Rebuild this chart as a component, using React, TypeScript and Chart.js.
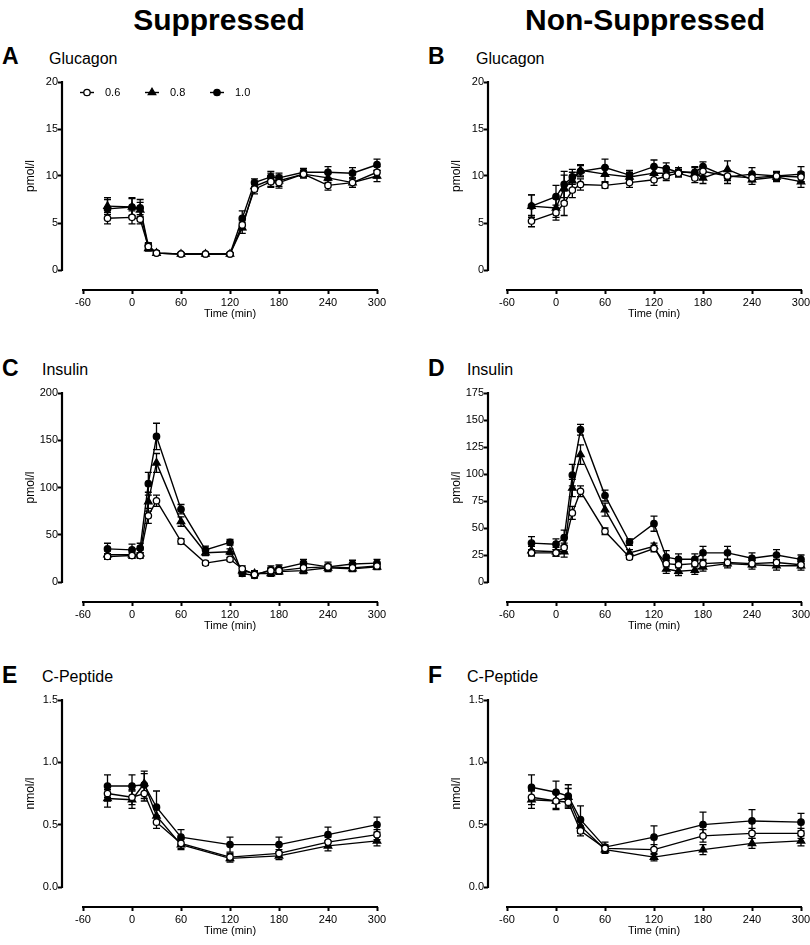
import React, { useEffect, useRef } from 'react';
import { Chart, registerables } from 'chart.js';
Chart.register(...registerables);

const FONT = '"Liberation Sans", Arial, Helvetica, sans-serif';

// ---------- data ----------
const TIMES = [-30, 0, 10, 20, 30, 60, 90, 120, 135, 150, 170, 180, 210, 240, 270, 300];
const TIMES_CPEP = [-30, 0, 15, 30, 60, 120, 180, 240, 300];
const X_TICKS = [-60, 0, 60, 120, 180, 240, 300];
const SERIES_LABELS = ['0.6', '0.8', '1.0'];

const GLU_TICKS = [0, 5, 10, 15, 20];
const INS_S_TICKS = [0, 50, 100, 150, 200];
const INS_N_TICKS = [0, 25, 50, 75, 100, 125, 150, 175];
const CPEP_TICKS = [0, 0.5, 1.0, 1.5];

// A: Glucagon, suppressed
const GLU_S_06 = [5.5, 5.6, 5.4, 2.5, 1.8, 1.7, 1.7, 1.7, 4.8, 8.6, 9.4, 9.3, 10.2, 9.0, 9.3, 10.4];
const GLU_S_08 = [6.8, 6.7, 6.4, 2.3, 1.8, 1.7, 1.7, 1.7, 4.5, 8.9, 9.6, 9.5, 10.2, 9.8, 9.3, 10.0];
const GLU_S_10 = [6.5, 6.7, 6.6, 2.6, 1.8, 1.7, 1.7, 1.7, 5.5, 9.3, 9.9, 9.8, 10.4, 10.4, 10.3, 11.2];
const GLU_S_06_ERR = [0.6, 0.7, 0.5, 0.3, 0.2, 0.1, 0.1, 0.1, 0.5, 0.5, 0.6, 0.6, 0.4, 0.5, 0.5, 0.6];
const GLU_S_08_ERR = [0.9, 0.9, 0.8, 0.3, 0.2, 0.1, 0.1, 0.1, 0.6, 0.5, 0.7, 0.6, 0.4, 0.5, 0.5, 0.6];
const GLU_S_10_ERR = [1.0, 1.0, 0.9, 0.3, 0.2, 0.1, 0.1, 0.1, 0.8, 0.4, 0.6, 0.5, 0.4, 0.6, 0.6, 0.6];

// B: Glucagon, non-suppressed
const GLU_N_06 = [5.2, 6.1, 7.1, 8.5, 9.1, 9.0, 9.3, 9.6, 10.0, 10.3, 9.8, 10.5, 10.0, 9.8, 10.0, 9.9];
const GLU_N_08 = [6.8, 6.6, 8.7, 9.5, 10.6, 10.2, 9.9, 10.3, 10.3, 10.5, 10.3, 9.8, 10.7, 9.6, 9.9, 9.4];
const GLU_N_10 = [6.8, 7.8, 9.1, 9.9, 10.5, 10.9, 10.1, 11.0, 10.8, 10.4, 10.4, 11.0, 9.9, 10.2, 10.0, 10.2];
const GLU_N_06_ERR = [0.6, 0.8, 1.3, 0.8, 0.6, 0.3, 0.5, 0.6, 0.5, 0.4, 0.5, 0.5, 0.5, 0.4, 0.4, 0.5];
const GLU_N_08_ERR = [1.2, 1.0, 1.4, 0.9, 0.6, 0.8, 0.5, 0.7, 0.6, 0.4, 0.6, 0.6, 0.9, 0.5, 0.5, 0.6];
const GLU_N_10_ERR = [1.2, 1.2, 1.4, 0.8, 0.6, 0.9, 0.5, 0.7, 0.6, 0.5, 0.6, 0.5, 0.7, 0.7, 0.5, 0.8];

// C: Insulin, suppressed
const INS_S_06 = [27, 28, 28, 70, 86, 43, 20, 24, 14, 8, 12, 12, 15, 16, 15, 17];
const INS_S_08 = [29, 29, 30, 85, 126, 64, 31, 32, 12, 9, 9, 11, 12, 15, 14, 16];
const INS_S_10 = [35, 34, 36, 104, 154, 77, 34, 42, 9, 7, 13, 14, 20, 16, 19, 20];
const INS_S_06_ERR = [3, 3, 3, 8, 6, 3, 2, 2, 3, 3, 3, 3, 3, 3, 3, 3];
const INS_S_08_ERR = [4, 4, 4, 10, 10, 5, 3, 3, 3, 3, 3, 3, 3, 3, 3, 3];
const INS_S_10_ERR = [6, 6, 5, 12, 14, 5, 4, 3, 3, 3, 4, 4, 4, 5, 4, 4];

// D: Insulin, non-suppressed
const INS_N_06 = [27, 27, 32, 64, 84, 47, 23, 31, 17, 16, 17, 17, 18, 17, 18, 16];
const INS_N_08 = [29, 28, 28, 87, 118, 67, 27, 33, 12, 10, 11, 14, 17, 16, 15, 15];
const INS_N_10 = [36, 35, 41, 99, 141, 80, 37, 54, 23, 21, 21, 27, 27, 22, 25, 21];
const INS_N_06_ERR = [3, 3, 4, 6, 5, 3, 2, 3, 3, 3, 3, 3, 3, 3, 3, 3];
const INS_N_08_ERR = [4, 4, 5, 8, 9, 6, 3, 3, 4, 4, 4, 4, 4, 4, 4, 4];
const INS_N_10_ERR = [6, 5, 7, 10, 5, 5, 3, 7, 6, 5, 5, 6, 6, 5, 5, 4];

// E: C-peptide, suppressed
const CP_S_06 = [0.75, 0.72, 0.75, 0.52, 0.35, 0.24, 0.27, 0.36, 0.42];
const CP_S_08 = [0.71, 0.70, 0.83, 0.57, 0.34, 0.23, 0.25, 0.33, 0.37];
const CP_S_10 = [0.81, 0.81, 0.82, 0.64, 0.40, 0.34, 0.34, 0.42, 0.50];
const CP_S_06_ERR = [0.06, 0.06, 0.06, 0.05, 0.04, 0.03, 0.03, 0.04, 0.04];
const CP_S_08_ERR = [0.07, 0.07, 0.08, 0.06, 0.04, 0.03, 0.03, 0.04, 0.04];
const CP_S_10_ERR = [0.09, 0.09, 0.11, 0.13, 0.06, 0.06, 0.06, 0.06, 0.06];

// F: C-peptide, non-suppressed
const CP_N_06 = [0.72, 0.69, 0.68, 0.45, 0.31, 0.30, 0.41, 0.43, 0.43];
const CP_N_08 = [0.70, 0.69, 0.72, 0.49, 0.30, 0.24, 0.30, 0.35, 0.37];
const CP_N_10 = [0.80, 0.76, 0.73, 0.54, 0.32, 0.40, 0.50, 0.53, 0.52];
const CP_N_06_ERR = [0.06, 0.06, 0.05, 0.04, 0.03, 0.04, 0.05, 0.04, 0.04];
const CP_N_08_ERR = [0.07, 0.07, 0.07, 0.05, 0.03, 0.03, 0.04, 0.04, 0.04];
const CP_N_10_ERR = [0.10, 0.09, 0.09, 0.11, 0.04, 0.09, 0.10, 0.09, 0.07];

// ---------- layout ----------
type Geo = { L: number; X60: number; R: number; T: number; Y0: number; B: number };
const PAD_L = 60;
const PAD_T = 20;
const PAD_R = 12;
const X_AXIS_H = 38;

const COL_LEFT = { L: 62, X60: 83, R: 377 };
const COL_RIGHT = { L: 488, X60: 507, R: 801 };
const ROW1 = { T: 82, Y0: 270, B: 290 };
const ROW2 = { T: 393, Y0: 582, B: 602 };
const ROW3 = { T: 700, Y0: 887, B: 907 };

// ---------- plugins ----------
function markerPath(ctx: CanvasRenderingContext2D, style: string, r: number, x: number, y: number) {
  ctx.beginPath();
  if (style === 'triangle') {
    let rad = 0;
    ctx.moveTo(x + Math.sin(rad) * r, y - Math.cos(rad) * r);
    rad += (2 * Math.PI) / 3;
    ctx.lineTo(x + Math.sin(rad) * r, y - Math.cos(rad) * r);
    rad += (2 * Math.PI) / 3;
    ctx.lineTo(x + Math.sin(rad) * r, y - Math.cos(rad) * r);
    ctx.closePath();
  } else {
    ctx.arc(x, y, r, 0, Math.PI * 2);
    ctx.closePath();
  }
}

const errorBarPlugin = {
  id: 'errorBars',
  beforeDatasetsDraw(chart: any) {
    const { ctx, scales } = chart;
    const x = scales.x;
    const y = scales.y;
    ctx.save();
    ctx.strokeStyle = '#000';
    ctx.lineWidth = 1.3;
    chart.data.datasets.forEach((ds: any) => {
      const errs: number[] = ds.errors;
      if (!errs) return;
      ds.data.forEach((p: any, i: number) => {
        const e = errs[i];
        if (!e) return;
        const px = x.getPixelForValue(p.x);
        const yt = y.getPixelForValue(p.y + e);
        const yb = y.getPixelForValue(p.y - e);
        ctx.beginPath();
        ctx.moveTo(px, yt);
        ctx.lineTo(px, yb);
        ctx.moveTo(px - 3.5, yt);
        ctx.lineTo(px + 3.5, yt);
        ctx.moveTo(px - 3.5, yb);
        ctx.lineTo(px + 3.5, yb);
        ctx.stroke();
      });
    });
    ctx.restore();
  },
};

const prismAxesPlugin = {
  id: 'prismAxes',
  afterDraw(chart: any, _args: any, opts: any) {
    const { ctx, chartArea, scales } = chart;
    const x = scales.x;
    const y = scales.y;
    ctx.save();
    ctx.strokeStyle = '#000';
    ctx.lineWidth = 2.2;
    const y0 = y.getPixelForValue(0);
    const y1 = y.getPixelForValue(opts.yMax);
    ctx.beginPath();
    ctx.moveTo(chartArea.left, y0 + 1);
    ctx.lineTo(chartArea.left, y1 - 1);
    ctx.stroke();
    const xa = x.getPixelForValue(X_TICKS[0]);
    const xb = x.getPixelForValue(X_TICKS[X_TICKS.length - 1]);
    ctx.beginPath();
    ctx.moveTo(xa - 1, chartArea.bottom);
    ctx.lineTo(xb + 1, chartArea.bottom);
    ctx.stroke();

    ctx.fillStyle = '#000';
    ctx.textAlign = 'center';
    ctx.textBaseline = 'middle';
    ctx.font = `11px ${FONT}`;
    ctx.fillText(opts.xTitle, (xa + xb) / 2, chartArea.bottom + 24);
    ctx.save();
    ctx.translate(chartArea.left - 31, (y0 + y1) / 2);
    ctx.rotate(-Math.PI / 2);
    ctx.font = `12px ${FONT}`;
    ctx.fillText(opts.yTitle, 0, 0);
    ctx.restore();
    ctx.restore();
  },
};

const lineLegendPlugin = {
  id: 'lineLegend',
  afterDraw(chart: any, _args: any, opts: any) {
    if (!opts || !opts.show) return;
    const { ctx, chartArea } = chart;
    ctx.save();
    chart.data.datasets.forEach((ds: any, i: number) => {
      const x0 = chartArea.left + 18 + i * 65;
      const yc = chartArea.top + 10.5;
      ctx.strokeStyle = '#000';
      ctx.lineWidth = 1.4;
      ctx.beginPath();
      ctx.moveTo(x0, yc);
      ctx.lineTo(x0 + 14, yc);
      ctx.stroke();
      markerPath(ctx, ds.pointStyle, ds.pointRadius, x0 + 7, yc);
      ctx.fillStyle = ds.pointBackgroundColor;
      ctx.fill();
      ctx.lineWidth = ds.pointBorderWidth;
      ctx.stroke();
      ctx.fillStyle = '#000';
      ctx.font = `11px ${FONT}`;
      ctx.textAlign = 'left';
      ctx.textBaseline = 'middle';
      ctx.fillText(ds.label, x0 + 25, yc);
    });
    ctx.restore();
  },
};

// ---------- panel ----------
type PanelProps = {
  geo: Geo;
  times: number[];
  series: number[][];
  errors: number[][];
  yMax: number;
  yTicks: number[];
  yTitle: string;
  decimals: number;
  legend?: boolean;
};

function Panel({ geo, times, series, errors, yMax, yTicks, yTitle, decimals, legend }: PanelProps) {
  const ref = useRef<HTMLCanvasElement | null>(null);
  const left = geo.L - PAD_L;
  const top = geo.T - PAD_T;
  const width = geo.R - geo.L + PAD_L + PAD_R;
  const height = geo.B - geo.T + PAD_T + X_AXIS_H;

  useEffect(() => {
    if (!ref.current) return;
    const pxX = (geo.R - geo.X60) / (X_TICKS[X_TICKS.length - 1] - X_TICKS[0]);
    const xMin = X_TICKS[0] - (geo.X60 - geo.L) / pxX;
    const pxY = (geo.Y0 - geo.T) / yMax;
    const yMin = -(geo.B - geo.Y0) / pxY;

    const datasets = series.map((vals, i) => ({
      label: SERIES_LABELS[i],
      data: times.map((t, j) => ({ x: t, y: vals[j] })),
      errors: errors[i],
      borderColor: '#000',
      borderWidth: 1.4,
      pointStyle: i === 1 ? 'triangle' : 'circle',
      pointRadius: i === 1 ? 4.3 : 3.2,
      pointBackgroundColor: i === 0 ? '#fff' : '#000',
      pointBorderColor: '#000',
      pointBorderWidth: 1.3,
      fill: false,
      tension: 0,
      clip: false,
    }));

    const chart = new Chart(ref.current, {
      type: 'line',
      data: { datasets } as any,
      options: {
        responsive: false,
        animation: false,
        devicePixelRatio: 1,
        events: [],
        layout: { padding: { left: 0, top: PAD_T, right: PAD_R, bottom: 0 } },
        plugins: {
          legend: { display: false },
          tooltip: { enabled: false },
          title: { display: false },
          prismAxes: { yMax, xTitle: 'Time (min)', yTitle },
          lineLegend: { show: !!legend },
        } as any,
        scales: {
          x: {
            type: 'linear',
            min: xMin,
            max: X_TICKS[X_TICKS.length - 1],
            afterBuildTicks: (s: any) => {
              s.ticks = X_TICKS.map((v) => ({ value: v }));
            },
            afterFit: (s: any) => {
              s.height = X_AXIS_H;
            },
            grid: {
              display: true,
              drawOnChartArea: false,
              drawTicks: true,
              tickLength: 4,
              tickWidth: 2,
              tickColor: '#000',
            },
            border: { display: false },
            ticks: {
              font: { family: FONT, size: 11 },
              color: '#000',
              padding: 2,
              maxRotation: 0,
              autoSkip: false,
              callback: (v: any) => String(v),
            },
          },
          y: {
            type: 'linear',
            min: yMin,
            max: yMax,
            afterBuildTicks: (s: any) => {
              s.ticks = yTicks.map((v) => ({ value: v }));
            },
            afterFit: (s: any) => {
              s.width = PAD_L;
            },
            grid: {
              display: true,
              drawOnChartArea: false,
              drawTicks: true,
              tickLength: 4,
              tickWidth: 2,
              tickColor: '#000',
            },
            border: { display: false },
            ticks: {
              font: { family: FONT, size: 11 },
              color: '#000',
              padding: 0,
              autoSkip: false,
              callback: (v: any) => Number(v).toFixed(decimals),
            },
          },
        } as any,
      },
      plugins: [errorBarPlugin, prismAxesPlugin, lineLegendPlugin],
    });
    return () => chart.destroy();
  }, []);

  return (
    <canvas
      ref={ref}
      width={width}
      height={height}
      style={{ position: 'absolute', left, top, width, height, display: 'block' }}
    />
  );
}

const textBase: React.CSSProperties = {
  position: 'absolute',
  fontFamily: FONT,
  color: '#000',
  whiteSpace: 'nowrap',
  margin: 0,
};

function Label({ x, y, size, bold, children, center, w }: any) {
  return (
    <div
      style={{
        ...textBase,
        left: center ? x - (w || 400) / 2 : x,
        top: y,
        width: center ? w || 400 : undefined,
        textAlign: center ? 'center' : 'left',
        fontSize: size,
        lineHeight: `${size}px`,
        fontWeight: bold ? 'bold' : 'normal',
      }}
    >
      {children}
    </div>
  );
}

export default function App() {
  const g = (col: any, row: any): Geo => ({ ...col, ...row });
  return (
    <div
      style={{
        position: 'absolute',
        left: 0,
        top: 0,
        width: 810,
        height: 945,
        overflow: 'hidden',
        background: '#fff',
      }}
    >
      <Label x={219} y={5} size={30} bold center>Suppressed</Label>
      <Label x={645} y={5} size={30} bold center>Non-Suppressed</Label>

      <Label x={2} y={45} size={23} bold>A</Label>
      <Label x={428} y={45} size={23} bold>B</Label>
      <Label x={2} y={357} size={23} bold>C</Label>
      <Label x={428} y={357} size={23} bold>D</Label>
      <Label x={2} y={664} size={23} bold>E</Label>
      <Label x={428} y={664} size={23} bold>F</Label>

      <Label x={49} y={51} size={16}>Glucagon</Label>
      <Label x={476} y={51} size={16}>Glucagon</Label>
      <Label x={42} y={362} size={16}>Insulin</Label>
      <Label x={467} y={362} size={16}>Insulin</Label>
      <Label x={42} y={669} size={16}>C-Peptide</Label>
      <Label x={467} y={669} size={16}>C-Peptide</Label>

      <Panel
        geo={g(COL_LEFT, ROW1)}
        times={TIMES}
        series={[GLU_S_06, GLU_S_08, GLU_S_10]}
        errors={[GLU_S_06_ERR, GLU_S_08_ERR, GLU_S_10_ERR]}
        yMax={20}
        yTicks={GLU_TICKS}
        yTitle="pmol/l"
        decimals={0}
        legend
      />
      <Panel
        geo={g(COL_RIGHT, ROW1)}
        times={TIMES}
        series={[GLU_N_06, GLU_N_08, GLU_N_10]}
        errors={[GLU_N_06_ERR, GLU_N_08_ERR, GLU_N_10_ERR]}
        yMax={20}
        yTicks={GLU_TICKS}
        yTitle="pmol/l"
        decimals={0}
      />
      <Panel
        geo={g(COL_LEFT, ROW2)}
        times={TIMES}
        series={[INS_S_06, INS_S_08, INS_S_10]}
        errors={[INS_S_06_ERR, INS_S_08_ERR, INS_S_10_ERR]}
        yMax={200}
        yTicks={INS_S_TICKS}
        yTitle="pmol/l"
        decimals={0}
      />
      <Panel
        geo={g(COL_RIGHT, ROW2)}
        times={TIMES}
        series={[INS_N_06, INS_N_08, INS_N_10]}
        errors={[INS_N_06_ERR, INS_N_08_ERR, INS_N_10_ERR]}
        yMax={175}
        yTicks={INS_N_TICKS}
        yTitle="pmol/l"
        decimals={0}
      />
      <Panel
        geo={g(COL_LEFT, ROW3)}
        times={TIMES_CPEP}
        series={[CP_S_06, CP_S_08, CP_S_10]}
        errors={[CP_S_06_ERR, CP_S_08_ERR, CP_S_10_ERR]}
        yMax={1.5}
        yTicks={CPEP_TICKS}
        yTitle="nmol/l"
        decimals={1}
      />
      <Panel
        geo={g(COL_RIGHT, ROW3)}
        times={TIMES_CPEP}
        series={[CP_N_06, CP_N_08, CP_N_10]}
        errors={[CP_N_06_ERR, CP_N_08_ERR, CP_N_10_ERR]}
        yMax={1.5}
        yTicks={CPEP_TICKS}
        yTitle="nmol/l"
        decimals={1}
      />
    </div>
  );
}
